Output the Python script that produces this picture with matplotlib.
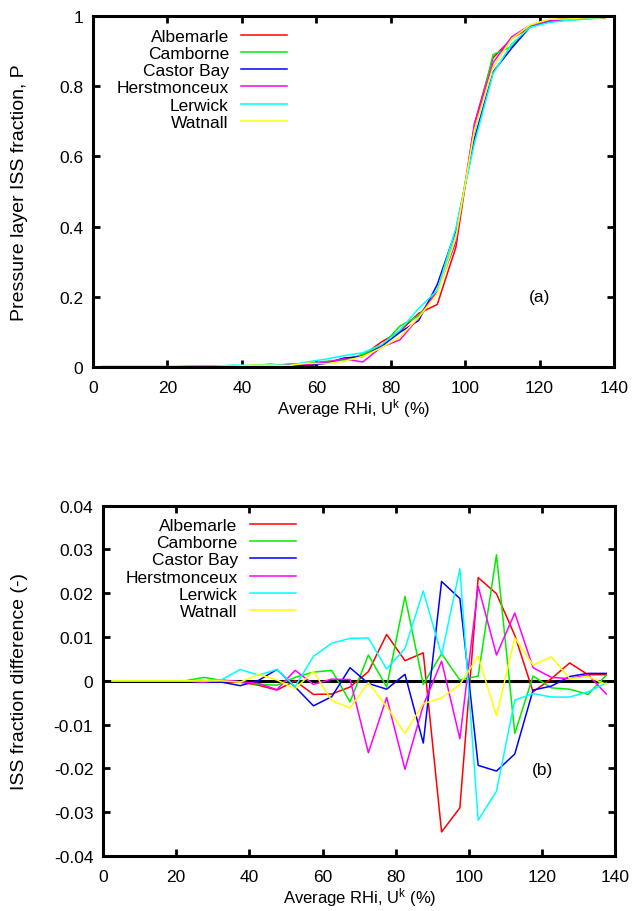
import matplotlib
matplotlib.use("Agg")
import matplotlib.pyplot as plt
from matplotlib.ticker import FuncFormatter

plt.rcParams["font.family"] = ["Liberation Sans", "DejaVu Sans"]
plt.rcParams["mathtext.fontset"] = "custom"
plt.rcParams["mathtext.rm"] = "Liberation Sans"
plt.rcParams["mathtext.it"] = "Liberation Sans"

rhi = [2.5, 7.5, 12.5, 17.5, 22.5, 27.5, 32.5, 37.5, 42.5, 47.5, 52.5, 57.5, 62.5, 67.5,
       72.5, 77.5, 82.5, 87.5, 92.5, 97.5, 102.5, 107.5, 112.5, 117.5, 122.5, 127.5, 132.5, 137.5]

stations = ["Albemarle", "Camborne", "Castor Bay", "Herstmonceux", "Lerwick", "Watnall"]
colors = ["#ff0000", "#00ee00", "#0000ff", "#ff00ff", "#00ffff", "#ffff00"]

# (a) ISS fraction per station
p_albemarle = [0, 0, 0, 0, 0, 0.0005, 0.0008, 0.0017, 0.002, 0.0019, 0.005, 0.0049, 0.010, 0.0206,
               0.0321, 0.0706, 0.1016, 0.1524, 0.1775, 0.341, 0.6936, 0.8819, 0.9364, 0.9695,
               0.9865, 0.9961, 0.9964, 0.9984]
p_camborne = [0, 0, 0, 0, 0, 0.0013, 0.0011, 0.0018, 0.0022, 0.003, 0.0058, 0.010, 0.0154, 0.0172,
              0.0359, 0.0586, 0.1163, 0.1452, 0.2182, 0.3702, 0.6711, 0.8908, 0.914, 0.9731,
              0.9844, 0.9901, 0.9919, 0.9983]
p_castor_bay = [0, 0, 0, 0, 0, 0.0002, 0.0007, 0.0009, 0.0031, 0.0066, 0.0036, 0.0023, 0.0094, 0.025,
                0.0294, 0.0581, 0.0985, 0.1318, 0.2347, 0.3888, 0.6507, 0.8414, 0.9093, 0.9699,
                0.9848, 0.993, 0.9967, 0.9987]
p_herstmonceux = [0, 0, 0, 0, 0, 0.0002, 0.0012, 0.0018, 0.0024, 0.002, 0.0074, 0.0072, 0.0134, 0.0223,
                  0.0136, 0.0562, 0.0768, 0.1404, 0.216, 0.3568, 0.6916, 0.8679, 0.9415, 0.975,
                  0.9868, 0.9925, 0.9964, 0.994]
p_lerwick = [0, 0, 0, 0, 0, 0.0005, 0.0013, 0.0046, 0.0043, 0.0066, 0.0037, 0.0136, 0.0216, 0.0317,
             0.0398, 0.0627, 0.1044, 0.1665, 0.2179, 0.3956, 0.6382, 0.8368, 0.9216, 0.9691,
             0.9823, 0.9883, 0.9925, 0.9965]
p_watnall = [0, 0, 0, 0, 0, 0.0005, 0.001, 0.0017, 0.0045, 0.0042, 0.0032, 0.0102, 0.0085, 0.0158,
             0.0296, 0.0541, 0.085, 0.1408, 0.2081, 0.3692, 0.6756, 0.854, 0.9358, 0.9756,
             0.9915, 0.9925, 0.996, 0.9962]

# (b) difference from the station mean
d_albemarle = [0, 0, 0, 0, 0, 0, -0.0002, -0.0003, -0.001, -0.0021, 0.0, -0.0031, -0.0030, -0.0014,
               0.0021, 0.0106, 0.0046, 0.0064, -0.0345, -0.0290, 0.0236, 0.0199, 0.0104, -0.0025,
               0.0005, 0.0041, 0.0014, 0.0014]
d_camborne = [0, 0, 0, 0, 0, 0.0008, 0.0001, -0.0002, -0.0008, -0.0010, 0.0008, 0.0020, 0.0024, -0.0048,
              0.0059, -0.0014, 0.0193, -0.0008, 0.0062, 0.0002, 0.0011, 0.0288, -0.0120, 0.0011,
              -0.0016, -0.0019, -0.0031, 0.0013]
d_castor_bay = [0, 0, 0, 0, 0, -0.0003, -0.0003, -0.0011, 0.0001, 0.0026, -0.0014, -0.0057, -0.0036, 0.0030,
                -0.0006, -0.0019, 0.0015, -0.0142, 0.0227, 0.0188, -0.0193, -0.0206, -0.0167, -0.0021,
                -0.0012, 0.0010, 0.0017, 0.0017]
d_herstmonceux = [0, 0, 0, 0, 0, -0.0003, 0.0002, -0.0002, -0.0006, -0.0020, 0.0024, -0.0008, 0.0004, 0.0003,
                  -0.0164, -0.0038, -0.0202, -0.0056, 0.0045, -0.0132, 0.0216, 0.0059, 0.0155, 0.0030,
                  0.0008, 0.0005, 0.0014, -0.0030]
d_lerwick = [0, 0, 0, 0, 0, 0, 0.0003, 0.0026, 0.0013, 0.0026, -0.0013, 0.0056, 0.0086, 0.0097,
             0.0098, 0.0027, 0.0074, 0.0205, 0.0059, 0.0256, -0.0318, -0.0252, -0.0044, -0.0029,
             -0.0037, -0.0037, -0.0025, -0.0005]
d_watnall = [0, 0, 0, 0, 0, 0, 0, -0.0003, 0.0015, 0.0002, -0.0018, 0.0022, -0.0045, -0.0062,
             -0.0004, -0.0059, -0.0120, -0.0052, -0.0039, -0.0008, 0.0056, -0.0080, 0.0098, 0.0036,
             0.0055, 0.0005, 0.0010, -0.0008]

p_all = [p_albemarle, p_camborne, p_castor_bay, p_herstmonceux, p_lerwick, p_watnall]
d_all = [d_albemarle, d_camborne, d_castor_bay, d_herstmonceux, d_lerwick, d_watnall]

FS = 12.5
YLAB_FS = 14


def style_axes(ax):
    for s in ax.spines.values():
        s.set_linewidth(2.2)
    ax.tick_params(direction="in", length=5, width=2, top=True, right=True,
                   labelsize=FS, pad=7)
    ax.tick_params(axis="x", pad=9.5)
    ax.set_xlim(0, 140)
    ax.set_xticks(range(0, 141, 20))
    ax.set_xlabel("Average RHi, U$^k$ (%)", fontsize=12, labelpad=1)


def fmt(v, pos):
    return f"{v:g}".replace("\u2212", "-")


def add_legend(ax, x0):
    ax.legend(loc="upper left", bbox_to_anchor=(x0, 1.0), frameon=False, markerfirst=False,
              fontsize=FS, handlelength=2.65, handletextpad=0.7, labelspacing=0.12,
              borderaxespad=0.3)


fig = plt.figure(figsize=(6.35, 9.12), dpi=100)
ax1 = fig.add_axes([0.1465, 0.5968, 0.8205, 0.3842])
ax2 = fig.add_axes([0.1622, 0.0603, 0.8070, 0.3841])

for name, col, p in zip(stations, colors, p_all):
    ax1.plot(rhi, p, color=col, linewidth=1.1, label=name)
style_axes(ax1)
ax1.set_ylim(0, 1)
ax1.set_yticks([0, 0.2, 0.4, 0.6, 0.8, 1])
ax1.yaxis.set_major_formatter(FuncFormatter(fmt))
ax1.set_ylabel("Pressure layer ISS fraction, P", fontsize=YLAB_FS)
ax1.yaxis.set_label_coords(-0.125, 0.5)
ax1.text(120, 0.2, "(a)", fontsize=FS, ha="center", va="center")
add_legend(ax1, 0.022)

ax2.axhline(0, color="black", linewidth=2.2, zorder=1)
for name, col, d in zip(stations, colors, d_all):
    ax2.plot(rhi, d, color=col, linewidth=1.1, label=name, zorder=2)
style_axes(ax2)
ax2.set_ylim(-0.04, 0.04)
ax2.set_yticks([-0.04, -0.03, -0.02, -0.01, 0, 0.01, 0.02, 0.03, 0.04])
ax2.yaxis.set_major_formatter(FuncFormatter(fmt))
ax2.set_ylabel("ISS fraction difference (-)", fontsize=YLAB_FS)
ax2.yaxis.set_label_coords(-0.146, 0.5)
ax2.text(120, -0.0202, "(b)", fontsize=FS, ha="center", va="center")
add_legend(ax2, 0.02)

fig.savefig("out.png", dpi=100)
